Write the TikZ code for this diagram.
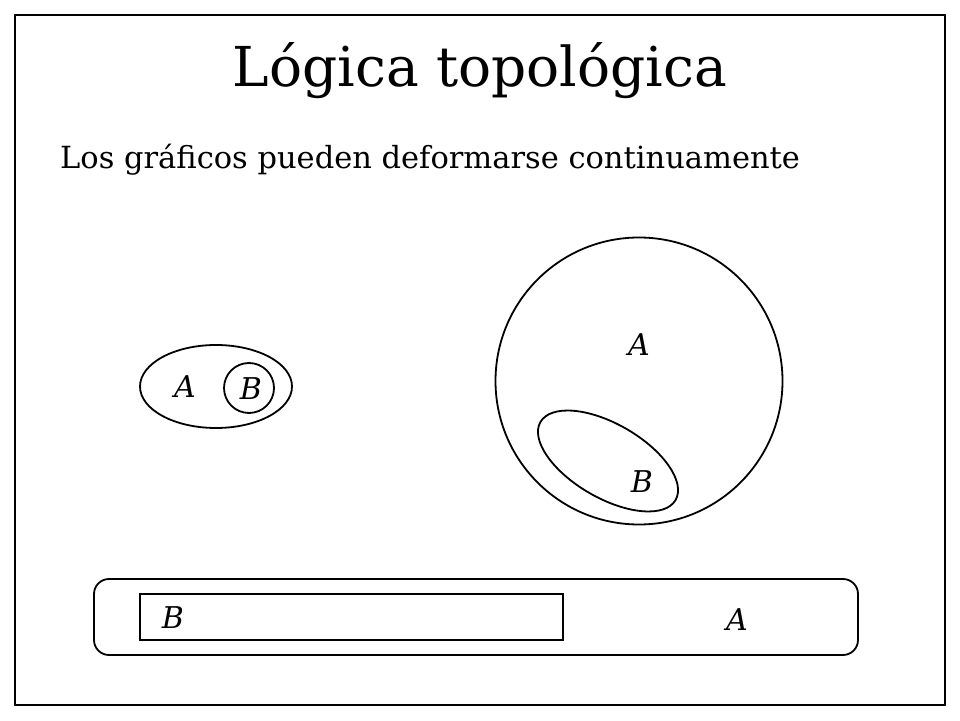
\documentclass[tikz,border=0pt]{standalone}
\usepackage{fontspec}
\setmainfont{DejaVu Serif}
\tikzset{>=latex}
\tikzset{
  setline/.style={line width=1.8pt},
  setlabel/.style={inner sep=0pt,font=\fontsize{30}{32}\selectfont\itshape}
}

\begin{document}
\begin{tikzpicture}[x=1pt,y=1pt]
  \useasboundingbox (0,0) rectangle (960,720);
  % frame
  \draw[line width=1.5pt] (15,15) rectangle (945,705);
  % title and subtitle
  \node[anchor=base,inner sep=0pt,font=\fontsize{55}{60}\selectfont] (title) at (480,633) {Lógica topológica};
  \node[anchor=base west,inner sep=0pt,font=\fontsize{30.5}{36}\selectfont] (subtitle) at (60,551) {Los gráficos pueden deformarse continuamente};
  % small ellipse with circle inside
  \draw[setline] (216,333.5) ellipse [x radius=76,y radius=41.5];
  \draw[setline] (249,332) circle (25);
  \node[setlabel] (smallA) at (185,333) {A};
  \node[setlabel] (smallB) at (251,331) {B};
  % big circle with tilted ellipse
  \draw[setline] (639,339) circle (143.5);
  \draw[setline] (608,259) ellipse [x radius=78,y radius=37,rotate=-30];
  \node[setlabel] (bigA) at (639,375) {A};
  \node[setlabel] (bigB) at (642,238) {B};
  % long boxes
  \draw[setline,rounded corners=15] (94,65) rectangle (858,141);
  \draw[setline] (140,80) rectangle (563,126);
  \node[setlabel] (longB) at (173,102) {B};
  \node[setlabel] (longA) at (737,100) {A};
\end{tikzpicture}
\end{document}
